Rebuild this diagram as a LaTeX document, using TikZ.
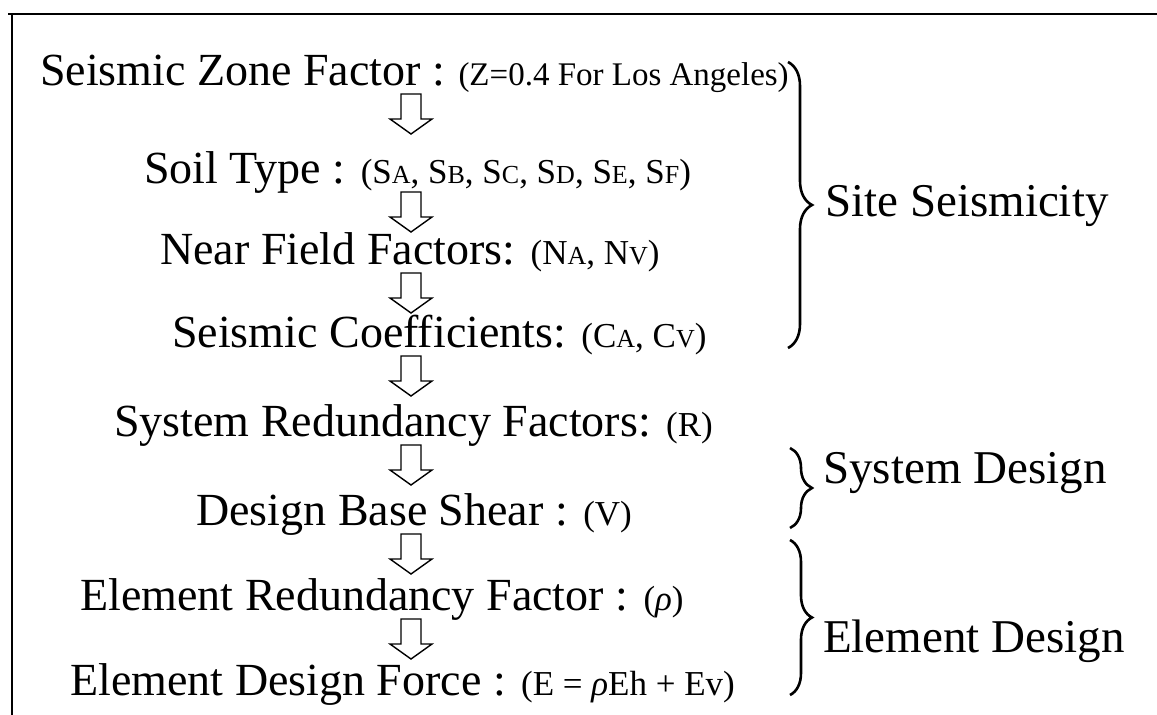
\documentclass[tikz,border=0pt]{standalone}
\usepackage{fontspec}
\setmainfont{Liberation Serif}
\usetikzlibrary{decorations.pathreplacing,calc}
\newcommand\mainsz{\fontsize{46}{50}\selectfont}
\newcommand\smsz{\fontsize{35}{40}\selectfont}
\newcommand\smszA{\fontsize{33}{38}\selectfont}
\newcommand\subcap[1]{{\fontsize{26}{30}\selectfont #1}}
\newcommand\hollowarrow[2]{% top coordinate, bottom coordinate
  \draw[arrowline] ($(#1)+(-10,0)$) -- ($(#1)+(10,0)$) -- ($(#2)+(10,-15)$) -- ($(#2)+(21,-15)$) -- (#2) -- ($(#2)+(-21,-15)$) -- ($(#2)+(-10,-15)$) -- cycle;}
\tikzset{
  line/.style={inner sep=0pt, anchor=base west, font=\mainsz},
  label/.style={inner sep=0pt, anchor=base west, font=\fontsize{47}{52}\selectfont},
  arrowline/.style={draw=black, fill=white, line width=1.4pt, line join=miter},
  bracestyle/.style={draw, line width=2.6pt, decorate, decoration={brace, amplitude=#1}},
  frame/.style={line width=2.4pt}
}
\begin{document}
\begin{tikzpicture}[x=1pt, y=-1pt]
\useasboundingbox (0,0) rectangle (1157,715);
% frame (top and left edges)
\coordinate (ftl) at (12,14);
\coordinate (ftr) at (1157,14);
\coordinate (fbl) at (12,715);
\draw[frame] (8,14) -- (ftr);
\draw[frame] (ftl) -- (fbl);

\node[line] (l1) at (40,85) {Seismic Zone Factor :\hspace{-2pt} {\smszA (Z=0.4 For Los Angeles)}};
\node[line] (l2) at (144,183) {Soil Type : {\smsz (S\subcap{A}, S\subcap{B}, S\subcap{C}, S\subcap{D}, S\subcap{E}, S\subcap{F})}};
\node[line] (l3) at (160,264) {Near Field Factors: {\smsz (N\subcap{A}, N\subcap{V})}};
\node[line] (l4) at (172,347) {Seismic Coefficients: {\smsz (C\subcap{A}, C\subcap{V})}};
\node[line] (l5) at (114,436) {System Redundancy Factors: {\smsz (R)}};
\node[line] (l6) at (196,525) {Design Base Shear : {\smsz (V)}};
\node[line] (l7) at (80,610) {Element Redundancy Factor : {\smsz (\textit{ρ})}};
\node[line] (l8) at (70,695) {Element Design Force : {\smsz (E = \textit{ρ}Eh + Ev)}};

% arrows
\foreach \i/\y in {1/85, 2/183, 3/264, 4/347, 5/436, 6/525, 7/610} {
  \coordinate (a\i t) at (411,\y+9);
  \coordinate (a\i b) at (411,\y+49);
}
\foreach \i in {1,...,7} { \hollowarrow{a\i t}{a\i b} }

% braces
\coordinate (b1t) at (788,62);
\coordinate (b1b) at (788,348);
\coordinate (b2t) at (790,448);
\coordinate (b2b) at (790,528);
\coordinate (b3t) at (790,540);
\coordinate (b3b) at (790,695);
\draw[bracestyle=24] (b1t) -- (b1b);
\draw[bracestyle=22] (b2t) -- (b2b);
\draw[bracestyle=22] (b3t) -- (b3b);

\node[label] (s1) at (825,216) {Site Seismicity};
\node[label] (s2) at (823,483) {System Design};
\node[label] (s3) at (823,652) {Element Design};
\end{tikzpicture}
\end{document}
